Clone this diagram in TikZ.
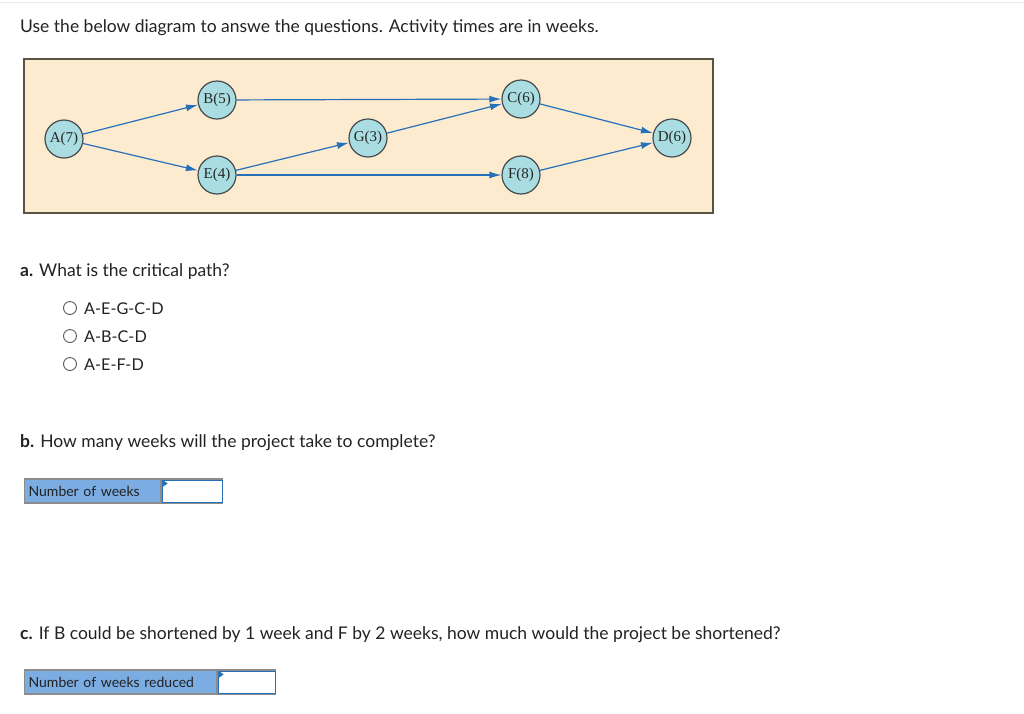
\documentclass[tikz,border=0pt]{standalone}
\usepackage{fontspec}
\setmainfont{Lato}
\newfontfamily\netfont{Liberation Serif}
\usetikzlibrary{arrows.meta}

\definecolor{netbg}{RGB}{253,235,208}
\definecolor{netframe}{RGB}{90,82,66}
\definecolor{actfill}{RGB}{170,221,226}
\definecolor{actline}{RGB}{70,74,76}
\definecolor{arcblue}{RGB}{38,112,186}
\definecolor{labfill}{RGB}{123,173,227}
\definecolor{boxgray}{RGB}{140,140,140}
\definecolor{txt}{RGB}{34,34,34}

\tikzset{
  act/.style={circle, draw=actline, line width=1.2pt, fill=actfill, minimum size=38pt,
    inner sep=0pt, font=\netfont\fontsize{15}{17}\selectfont, text=black!85},
  arc/.style={->, draw=arcblue, line width=1.2pt},
  qtext/.style={anchor=west, inner sep=0pt, text=txt, font=\fontsize{17.5}{20}\selectfont},
  opttext/.style={qtext, font=\fontsize{16.2}{19}\selectfont},
  opt/.style={circle, draw=black!65, line width=0.9pt, minimum size=13pt, inner sep=0pt},
  lab/.style={anchor=west, inner sep=0pt, draw=boxgray, line width=1.2pt, fill=labfill,
    font=\fontsize{14}{16}\selectfont, text=txt, minimum height=24pt, text depth=0pt},
  entry/.style={draw=boxgray, line width=1.2pt, fill=white, minimum height=24pt, inner sep=0pt}
}

\begin{document}
\begin{tikzpicture}[x=1pt, y=-1pt, >={Latex[length=12pt,width=7pt]}]
            \useasboundingbox (0,0) rectangle (1024,713);
            \draw[black!8, line width=1pt] (0,2) -- (1024,2);
            \node[qtext] (intro) at (20,28) {Use the below diagram to answe the questions. Activity times are in weeks.};

            % network
            \draw[draw=netframe, line width=1.5pt, fill=netbg] (24,59) rectangle (713,213);
            \node[act] (A) at (64,139) {A(7)};
            \node[act] (B) at (217,100) {B(5)};
            \node[act] (E) at (217,175) {E(4)};
            \node[act] (G) at (368,138) {G(3)};
            \node[act] (C) at (521,99) {C(6)};
            \node[act] (F) at (521,175) {F(8)};
            \node[act] (D) at (672,138) {D(6)};

            \draw[arc] (A) -- (B);
            \draw[arc] (A) -- (E);
            \draw[arc] (B) -- (C);
            \draw[arc] (E) -- (G);
            \draw[arc] (G) -- (C);
            \draw[arc] (E) -- (F);
            \draw[arc] (C) -- (D);
            \draw[arc] (F) -- (D);

            % part a
            \node[qtext] (qa) at (20,272) {\textbf{a.} What is the critical path?};
            \node[opt] (o1) at (70,308) {};
            \node[opttext, right=7pt, yshift=-1pt] at (o1.east) {A-E-G-C-D};
            \node[opt] (o2) at (70,336) {};
            \node[opttext, right=7pt, yshift=-1pt] at (o2.east) {A-B-C-D};
            \node[opt] (o3) at (70,364) {};
            \node[opttext, right=7pt, yshift=-1pt] at (o3.east) {A-E-F-D};

            % part b
            \node[qtext] (qb) at (20,443) {\textbf{b.} How many weeks will the project take to complete?};
            \node[lab, minimum width=136pt, text width=132pt, align=left] (nb) at (24,491) {\hspace{2pt}Number of weeks};
            \node[entry, anchor=west, minimum width=61pt] (ib) at (nb.east) {};
            \draw[arcblue, line width=0.8pt] ([shift={(1.5,1.5)}]ib.north west) rectangle ([shift={(-1.5,-1.5)}]ib.south east);
            \fill[arcblue] ([shift={(1.5,1.5)}]ib.north west) -- ++(5,3.5) -- ++(-5,3.5) -- cycle;

            % part c
            \node[qtext] (qc) at (20,635) {\textbf{c.} If B could be shortened by 1 week and F by 2 weeks, how much would the project be shortened?};
            \node[lab, minimum width=192pt, text width=188pt, align=left] (nc) at (24,682) {\hspace{2pt}Number of weeks reduced};
            \node[entry, anchor=west, minimum width=58pt] (ic) at (nc.east) {};
            \draw[arcblue, line width=0.8pt] ([shift={(1.5,1.5)}]ic.north west) rectangle ([shift={(-1.5,-1.5)}]ic.south east);
            \fill[arcblue] ([shift={(1.5,1.5)}]ic.north west) -- ++(5,3.5) -- ++(-5,3.5) -- cycle;
        \end{tikzpicture}
\end{document}
